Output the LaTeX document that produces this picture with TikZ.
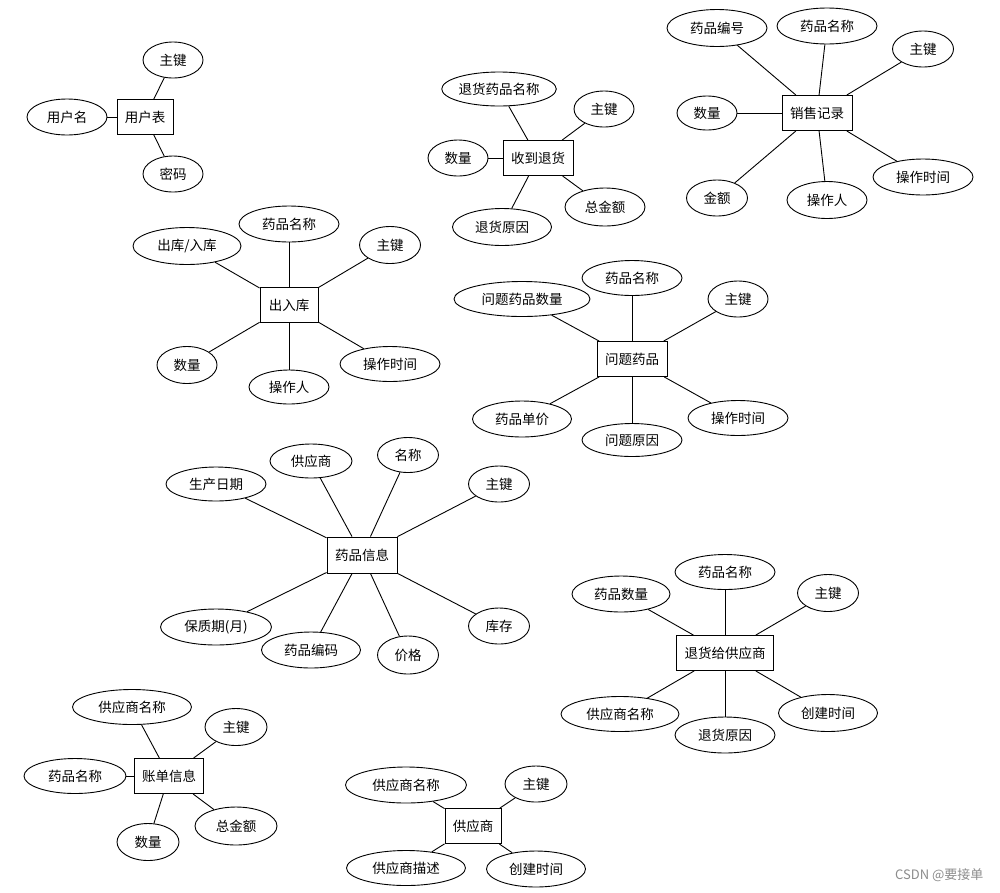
\documentclass[tikz,border=0pt]{standalone}
\usepackage{fontspec}
\setmainfont{Noto Sans CJK SC}
\usetikzlibrary{shapes.geometric}
\begin{document}
\begin{tikzpicture}[x=1pt,y=-1pt,
  every node/.style={font=\fontsize{13.5}{16}\selectfont},
  ent/.style={draw, rectangle, inner sep=0pt, minimum height=35, line width=0.9pt},
  attr/.style={draw, ellipse, inner sep=0pt, minimum height=36, line width=0.9pt},
  lnk/.style={line width=0.9pt}]
\useasboundingbox[fill=white] (0,0) rectangle (1000,892);
% 用户表
\node[ent, minimum width=56] (u) at (145,117) {用户表};
\node[attr, minimum width=60] (u1) at (173,60) {主键};
\node[attr, minimum width=80] (u2) at (67,117) {用户名};
\node[attr, minimum width=60] (u3) at (173,174) {密码};
\foreach \a in {u1,u2,u3} \draw[lnk] (u) -- (\a);
% 收到退货
\node[ent, minimum width=70] (r) at (538,158) {收到退货};
\node[attr, minimum width=110, minimum height=34] (r1) at (499,89) {退货药品名称};
\node[attr, minimum width=60] (r2) at (604,109) {主键};
\node[attr, minimum width=60] (r3) at (458,158) {数量};
\node[attr, minimum width=80, minimum height=38] (r4) at (605,207) {总金额};
\node[attr, minimum width=99, minimum height=37] (r5) at (502,227) {退货原因};
\foreach \a in {r1,r2,r3,r4,r5} \draw[lnk] (r) -- (\a);
% 销售记录
\node[ent, minimum width=70] (s) at (817,113) {销售记录};
\node[attr, minimum width=100, minimum height=37] (s1) at (717,28) {药品编号};
\node[attr, minimum width=100] (s2) at (827,26) {药品名称};
\node[attr, minimum width=61] (s3) at (923,49) {主键};
\node[attr, minimum width=60, minimum height=34] (s4) at (707,113) {数量};
\node[attr, minimum width=100] (s5) at (923,177) {操作时间};
\node[attr, minimum width=61] (s6) at (717,198) {金额};
\node[attr, minimum width=80, minimum height=37] (s7) at (827,200) {操作人};
\foreach \a in {s1,s2,s3,s4,s5,s6,s7} \draw[lnk] (s) -- (\a);
% 出入库
\node[ent, minimum width=58] (c) at (289,305) {出入库};
\node[attr, minimum width=100] (c1) at (289,224) {药品名称};
\node[attr, minimum width=108, minimum height=37] (c2) at (187,246) {出库/入库};
\node[attr, minimum width=61, minimum height=37] (c3) at (390,245) {主键};
\node[attr, minimum width=60, minimum height=37] (c4) at (187,365) {数量};
\node[attr, minimum width=80, minimum height=34] (c5) at (289,387) {操作人};
\node[attr, minimum width=100, minimum height=35] (c6) at (390,364) {操作时间};
\foreach \a in {c1,c2,c3,c4,c5,c6} \draw[lnk] (c) -- (\a);
% 问题药品
\node[ent, minimum width=70] (q) at (632,359) {问题药品};
\node[attr, minimum width=100, minimum height=35] (q1) at (632,278) {药品名称};
\node[attr, minimum width=136, minimum height=35] (q2) at (522,299) {问题药品数量};
\node[attr, minimum width=60] (q3) at (738,299) {主键};
\node[attr, minimum width=99] (q4) at (522,419) {药品单价};
\node[attr, minimum width=100, minimum height=33] (q5) at (632,440) {问题原因};
\node[attr, minimum width=100, minimum height=35] (q6) at (738,418) {操作时间};
\foreach \a in {q1,q2,q3,q4,q5,q6} \draw[lnk] (q) -- (\a);
% 药品信息
\node[ent, minimum width=70, minimum height=36] (m) at (362,555) {药品信息};
\node[attr, minimum width=100, minimum height=34] (m1) at (216,484) {生产日期};
\node[attr, minimum width=82, minimum height=34] (m2) at (311,461) {供应商};
\node[attr, minimum width=61, minimum height=35] (m3) at (408,455) {名称};
\node[attr, minimum width=61] (m4) at (499,484) {主键};
\node[attr, minimum width=111] (m5) at (216,627) {保质期(月)};
\node[attr, minimum width=99] (m6) at (311,650) {药品编码};
\node[attr, minimum width=61, minimum height=38] (m7) at (408,655) {价格};
\node[attr, minimum width=61] (m8) at (499,626) {库存};
\foreach \a in {m1,m2,m3,m4,m5,m6,m7,m8} \draw[lnk] (m) -- (\a);
% 退货给供应商
\node[ent, minimum width=97] (t) at (725,653) {退货给供应商};
\node[attr, minimum width=100, minimum height=35] (t1) at (725,572) {药品名称};
\node[attr, minimum width=98] (t2) at (621,594) {药品数量};
\node[attr, minimum width=61, minimum height=37] (t3) at (828,593) {主键};
\node[attr, minimum width=118, minimum height=35] (t4) at (620,714) {供应商名称};
\node[attr, minimum width=100] (t5) at (725,735) {退货原因};
\node[attr, minimum width=99, minimum height=37] (t6) at (828,713) {创建时间};
\foreach \a in {t1,t2,t3,t4,t5,t6} \draw[lnk] (t) -- (\a);
% 账单信息
\node[ent, minimum width=69] (b) at (169,776) {账单信息};
\node[attr, minimum width=119, minimum height=35] (b1) at (132,707) {供应商名称};
\node[attr, minimum width=62, minimum height=37] (b2) at (236,727) {主键};
\node[attr, minimum width=102, minimum height=35] (b3) at (75,776) {药品名称};
\node[attr, minimum width=82, minimum height=38] (b4) at (236,826) {总金额};
\node[attr, minimum width=62, minimum height=37] (b5) at (148,842) {数量};
\foreach \a in {b1,b2,b3,b4,b5} \draw[lnk] (b) -- (\a);
% 供应商
\node[ent, minimum width=56] (g) at (473,826) {供应商};
\node[attr, minimum width=121] (g1) at (406,785) {供应商名称};
\node[attr, minimum width=62] (g2) at (536,784) {主键};
\node[attr, minimum width=119, minimum height=35] (g3) at (406,868) {供应商描述};
\node[attr, minimum width=99] (g4) at (536,869) {创建时间};
\foreach \a in {g1,g2,g3,g4} \draw[lnk] (g) -- (\a);
% watermark
\node[font=\fontsize{13}{15}\selectfont, text=black!45, anchor=east] (wm) at (987,875) {CSDN @要接单};
\end{tikzpicture}
\end{document}
